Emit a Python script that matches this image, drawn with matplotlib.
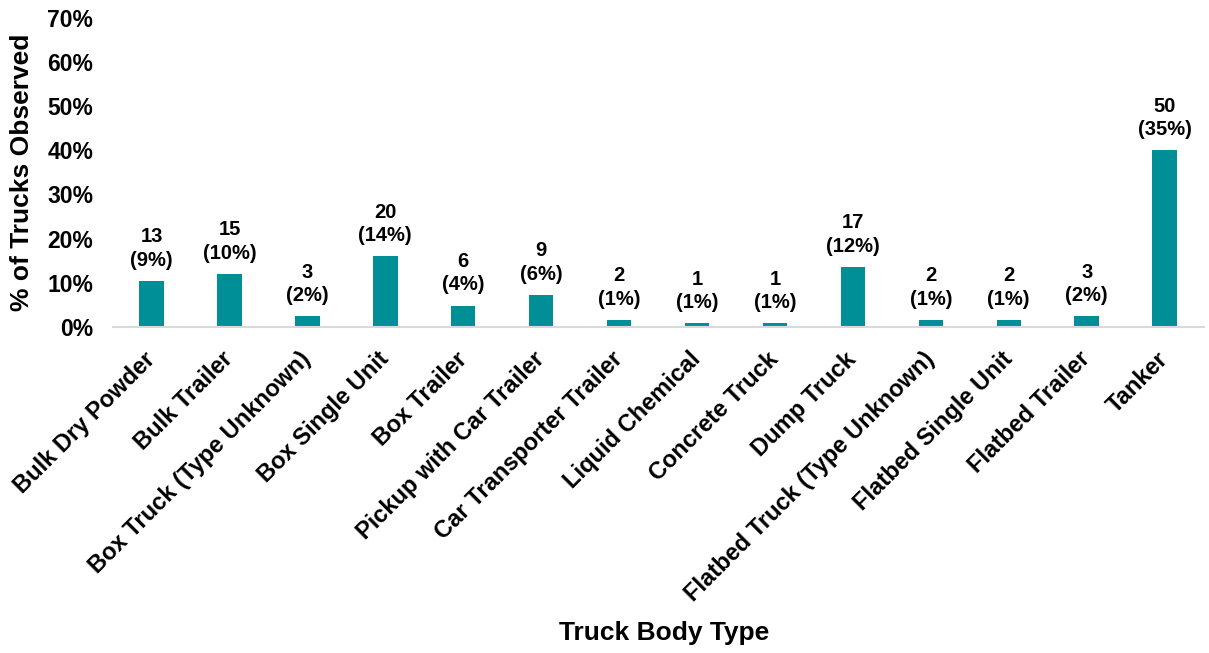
import matplotlib
matplotlib.use('Agg')
from matplotlib import pyplot as plt
from matplotlib.transforms import ScaledTranslation

plt.rcParams['font.family'] = ['Liberation Sans', 'DejaVu Sans']
plt.rcParams['font.weight'] = 'bold'

body_types = ['Bulk Dry Powder', 'Bulk Trailer', 'Box Truck (Type Unknown)', 'Box Single Unit',
              'Box Trailer', 'Pickup with Car Trailer', 'Car Transporter Trailer', 'Liquid Chemical',
              'Concrete Truck', 'Dump Truck', 'Flatbed Truck (Type Unknown)', 'Flatbed Single Unit',
              'Flatbed Trailer', 'Tanker']
# bar heights as drawn (% of trucks observed)
bar_pct = [10.4, 12.0, 2.4, 16.0, 4.8, 7.2, 1.6, 0.8, 0.8, 13.6, 1.6, 1.6, 2.4, 40.0]
counts = [13, 15, 3, 20, 6, 9, 2, 1, 1, 17, 2, 2, 3, 50]
label_pct = ['9%', '10%', '2%', '14%', '4%', '6%', '1%', '1%', '1%', '12%', '1%', '1%', '2%', '35%']
yticks = [0, 10, 20, 30, 40, 50, 60, 70]

fig = plt.figure(figsize=(12.09, 6.53), dpi=100)
ax = fig.add_axes([0.0931, 0.4997, 0.9024, 0.4727])

x = list(range(len(body_types)))
bars = ax.bar(x, bar_pct, width=0.314, color='#008F96', zorder=2)

for xi, h, n, p in zip(x, bar_pct, counts, label_pct):
    ax.annotate(f'{n}\n({p})', (xi, h), xytext=(0, 8), textcoords='offset points',
                ha='center', va='bottom', fontsize=14.5, fontweight='bold', linespacing=1.3)

ax.set_xlim(-0.5, len(body_types) - 0.5)
ax.set_ylim(0, 70)
ax.set_yticks(yticks)
ax.set_yticklabels([f'{t}%' for t in yticks], fontsize=16.5, fontweight='bold')
ax.set_xticks(x)
ax.set_xticklabels(body_types, rotation=45, ha='right', va='top', rotation_mode='anchor',
                   fontsize=17, fontweight='bold')
ax.tick_params(axis='x', length=0, pad=15)
ax.tick_params(axis='y', length=0, pad=14)
offset = ScaledTranslation(-8 / 100, 0, fig.dpi_scale_trans)
for lab in ax.get_xticklabels():
    lab.set_transform(lab.get_transform() + offset)

for side in ['top', 'right', 'left']:
    ax.spines[side].set_visible(False)
ax.spines['bottom'].set_color('#D9D9D9')
ax.spines['bottom'].set_linewidth(1.5)

ax.set_ylabel('% of Trucks Observed', fontsize=19, fontweight='bold')
ax.yaxis.set_label_coords(-0.072, 0.5)
ax.set_xlabel('Truck Body Type', fontsize=19, fontweight='bold')
ax.xaxis.set_label_coords(0.506, -0.953)
ax.xaxis.label.set_va('top')

fig.savefig('out.png', dpi=100)
